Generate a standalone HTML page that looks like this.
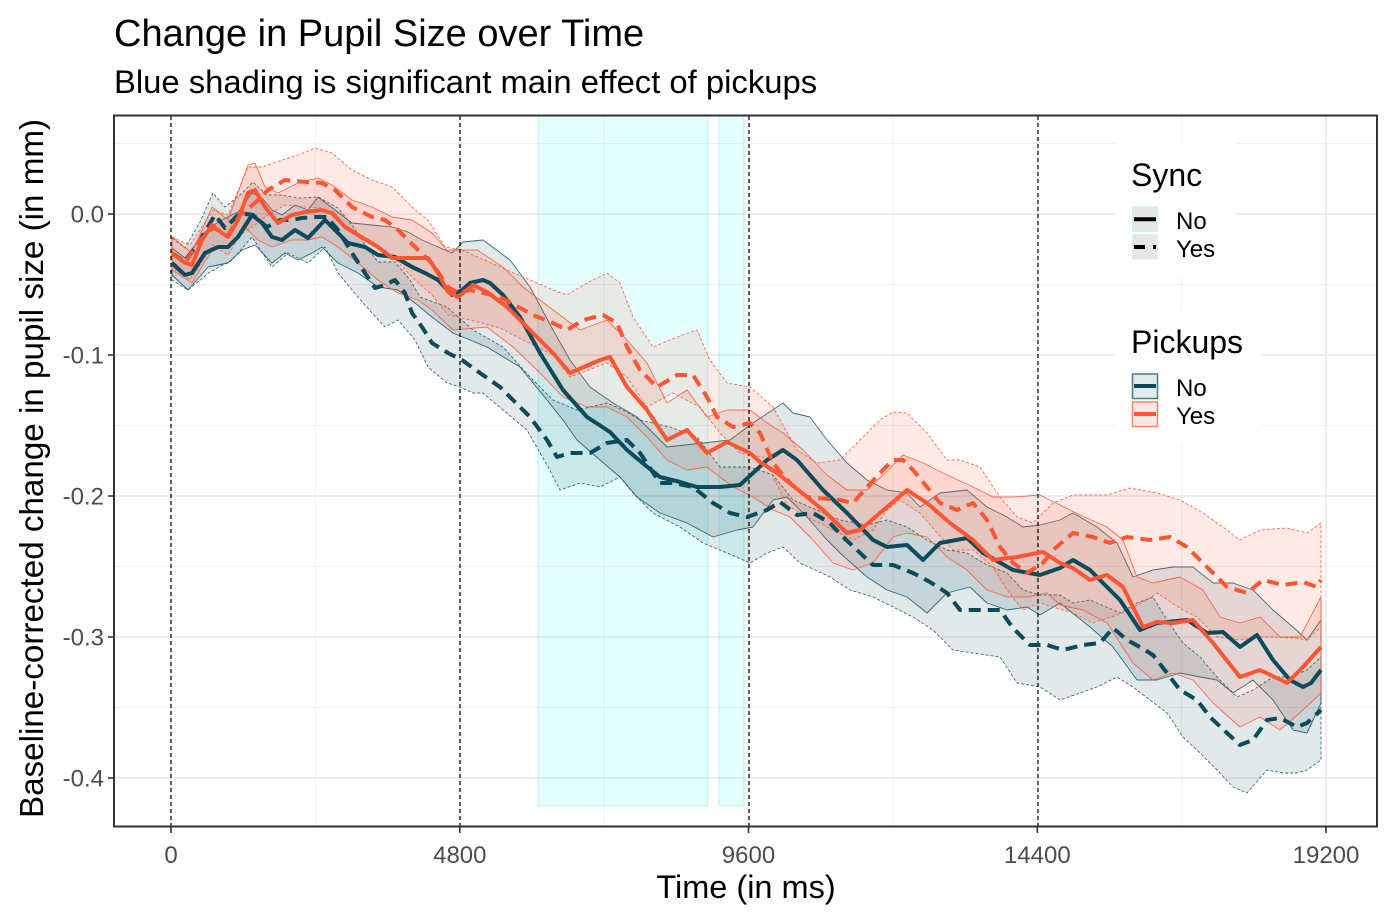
<!DOCTYPE html>
<html><head><meta charset="utf-8"><style>
html,body{margin:0;padding:0;background:#fff;}
svg{display:block;font-family:"Liberation Sans",Arial,sans-serif;}
</style></head><body>
<svg width="1395" height="921" viewBox="0 0 1395 921" xmlns="http://www.w3.org/2000/svg">
<rect x="0" y="0" width="1395" height="921" fill="#fff"/>
<!-- titles -->
<text x="114" y="46" font-size="38" fill="#000">Change in Pupil Size over Time</text>
<text x="114" y="93" font-size="32.8" fill="#000">Blue shading is significant main effect of pickups</text>
<!-- grid -->
<g stroke="#f0f0f0" stroke-width="1">
<line x1="114" x2="1377" y1="143.5" y2="143.5"/><line x1="114" x2="1377" y1="284.5" y2="284.5"/><line x1="114" x2="1377" y1="425.5" y2="425.5"/><line x1="114" x2="1377" y1="566.5" y2="566.5"/><line x1="114" x2="1377" y1="707.5" y2="707.5"/>
<line y1="116" y2="826" x1="315.4" x2="315.4"/><line y1="116" y2="826" x1="604.1" x2="604.1"/><line y1="116" y2="826" x1="892.9" x2="892.9"/><line y1="116" y2="826" x1="1181.6" x2="1181.6"/>
</g>
<g stroke="#ebebeb" stroke-width="1.8">
<line x1="114" x2="1377" y1="214" y2="214"/><line x1="114" x2="1377" y1="355" y2="355"/><line x1="114" x2="1377" y1="496" y2="496"/><line x1="114" x2="1377" y1="637" y2="637"/><line x1="114" x2="1377" y1="778" y2="778"/>
<line y1="116" y2="826" x1="171" x2="171"/><line y1="116" y2="826" x1="459.8" x2="459.8"/><line y1="116" y2="826" x1="748.5" x2="748.5"/><line y1="116" y2="826" x1="1037.3" x2="1037.3"/><line y1="116" y2="826" x1="1326" x2="1326"/>
</g>
<!-- cyan shading -->
<rect x="538" y="116" width="170" height="690" fill="rgba(0,255,255,0.1)" stroke="rgba(0,220,220,0.25)" stroke-width="1"/>
<rect x="719" y="116" width="25" height="690" fill="rgba(0,255,255,0.1)" stroke="rgba(0,220,220,0.25)" stroke-width="1"/>
<!-- ribbons -->
<g stroke-width="0.9" stroke-linejoin="round">
<polygon fill="rgba(11,75,91,0.12)" stroke="rgba(11,75,91,0.8)" points="172,248 185,258 205,232 218,222 238,212 252,193 262,198 272,210 282,215 295,205 308,210 318,197 335,210 352,223 372,225 392,227 408,232 422,240 438,247 452,253 463,242 483,240 510,260 530,287 553,330 570,360 590,387 613,403 637,417 667,447 703,443 730,440 753,423 783,403 793,413 810,417 827,440 847,463 867,480 887,490 907,493 920,507 940,493 967,490 987,507 1007,517 1023,527 1040,525 1060,520 1073,513 1097,527 1117,543 1133,577 1153,570 1173,567 1193,567 1213,583 1233,583 1253,590 1273,610 1293,627 1307,640 1321,620 1321,703 1307,733 1293,730 1273,700 1253,680 1233,693 1217,680 1200,677 1180,673 1157,680 1137,680 1113,647 1090,627 1060,603 1040,615 1027,607 1007,610 987,603 970,587 947,593 927,613 907,597 887,590 867,577 840,553 827,540 807,517 787,497 773,500 753,527 737,530 713,537 687,523 660,513 637,497 620,477 600,460 577,440 563,420 547,400 520,367 487,347 453,333 432,317 415,303 398,290 378,287 358,273 338,263 322,247 312,253 298,260 285,253 272,263 255,245 242,250 228,263 208,267 188,290 172,275"/>
<polygon fill="rgba(11,75,91,0.12)" stroke="rgba(11,75,91,0.8)" stroke-dasharray="3 2" points="172,238 185,248 200,222 213,193 225,207 240,195 253,182 267,195 280,195 300,198 318,197 338,208 352,225 365,245 378,262 395,262 410,280 420,297 447,307 473,330 503,347 530,377 553,400 577,410 607,403 623,410 640,420 670,427 697,437 720,467 750,467 773,475 793,500 817,510 840,520 867,525 887,520 907,527 927,540 947,550 967,553 987,565 1007,573 1023,590 1040,595 1060,595 1073,603 1090,600 1120,613 1137,603 1153,597 1167,620 1183,643 1200,657 1217,677 1237,697 1253,690 1273,677 1290,677 1307,670 1321,657 1321,760 1307,770 1297,773 1283,773 1267,770 1247,793 1233,787 1217,770 1200,753 1183,737 1167,713 1150,700 1133,687 1117,677 1097,687 1080,693 1060,700 1040,687 1017,683 1000,657 973,653 953,650 933,630 913,617 893,607 873,597 850,590 830,577 800,563 783,547 767,553 750,563 727,553 703,543 680,527 653,513 633,493 620,477 600,487 580,483 560,490 547,465 527,430 503,410 483,393 473,393 460,387 447,383 428,367 415,340 398,320 385,327 372,313 352,290 338,273 325,247 308,263 288,253 272,267 252,237 232,260 210,272 188,290 172,280"/>
<polygon fill="rgba(255,85,51,0.12)" stroke="rgba(255,85,51,0.85)" points="172,237 192,253 212,207 228,220 248,165 255,163 265,187 278,193 298,183 318,178 332,185 352,200 372,207 392,217 412,220 432,233 447,250 477,250 503,267 523,287 553,310 580,330 607,320 627,340 647,363 667,403 687,390 707,417 727,410 750,410 767,423 783,433 803,450 827,475 847,490 867,490 883,475 903,455 923,463 943,473 973,487 993,497 1013,497 1040,495 1060,505 1080,515 1107,527 1123,540 1137,577 1153,583 1180,577 1203,590 1220,617 1240,623 1260,617 1280,637 1300,637 1321,597 1321,693 1303,710 1280,730 1260,717 1240,727 1213,703 1193,680 1173,673 1153,680 1133,663 1107,623 1083,610 1060,605 1047,593 1027,597 1007,597 987,590 967,570 947,557 927,537 907,533 893,537 873,563 853,570 833,563 813,540 790,517 773,510 753,497 733,487 707,467 687,470 667,460 647,437 627,417 607,407 587,407 563,397 540,373 513,347 487,327 453,330 432,310 418,300 398,293 378,280 358,263 338,247 322,237 308,240 292,240 272,247 258,240 245,227 228,247 212,250 192,283 172,270"/>
<polygon fill="rgba(255,85,51,0.12)" stroke="rgba(255,85,51,0.85)" stroke-dasharray="3 2" points="172,237 190,245 213,210 228,215 248,167 262,167 282,160 298,155 315,148 332,153 352,170 372,180 392,187 412,207 428,220 445,247 462,250 500,267 530,280 553,290 567,295 587,283 607,273 620,283 633,317 653,347 677,337 697,330 710,360 727,383 750,387 773,407 797,450 817,463 840,460 860,440 880,420 893,412 907,413 927,433 947,460 960,460 980,467 1000,497 1017,517 1033,523 1053,503 1073,495 1107,495 1130,488 1157,493 1180,500 1203,513 1227,530 1240,540 1260,530 1287,528 1307,533 1321,523 1321,627 1307,640 1293,638 1273,637 1257,637 1240,640 1217,637 1197,617 1183,610 1157,593 1147,600 1123,613 1093,623 1073,613 1040,603 1023,610 1007,590 993,567 973,550 953,550 937,533 920,513 900,500 887,510 873,530 853,540 833,530 807,517 787,505 763,457 740,453 720,433 700,407 673,393 647,407 627,377 607,363 570,377 553,355 533,345 500,328 470,320 448,315 432,295 415,280 398,262 385,250 372,245 352,232 335,215 322,208 305,207 285,205 268,215 255,225 240,235 228,255 213,245 190,280 172,268"/>
</g>
<!-- vertical dashed reference lines -->
<g stroke="#000" stroke-width="1.2" stroke-dasharray="4 3">
<line x1="171" x2="171" y1="116" y2="826"/><line x1="460" x2="460" y1="116" y2="826"/><line x1="749" x2="749" y1="116" y2="826"/><line x1="1038" x2="1038" y1="116" y2="826"/>
</g>
<!-- lines -->
<g fill="none" stroke-width="4" stroke-linejoin="round">
<polyline stroke="#0b4b5b" points="172,263 185,275 192,273 205,253 218,247 228,247 238,237 252,215 262,223 272,237 282,240 295,230 308,238 325,220 335,230 348,243 365,247 378,255 395,257 412,267 425,273 438,280 452,295 462,290 470,283 483,280 490,283 503,295 520,317 540,353 563,390 587,417 610,432 627,450 645,465 660,477 680,482 697,487 720,487 740,485 753,473 767,460 783,450 797,460 810,475 823,490 847,513 873,540 887,547 907,545 923,560 940,543 967,538 983,553 1013,570 1040,575 1060,568 1073,560 1090,570 1120,600 1140,630 1157,623 1187,620 1207,633 1223,632 1240,647 1257,635 1273,660 1290,680 1303,687 1311,683 1321,670"/>
<polyline stroke="#0b4b5b" stroke-dasharray="12 7" points="172,253 185,262 200,240 215,215 225,228 240,213 253,215 267,227 280,220 292,220 302,218 315,217 327,217 338,230 352,253 365,273 375,288 385,285 395,280 405,293 412,313 422,327 432,343 448,353 462,360 480,373 500,387 513,400 530,417 547,440 557,457 570,453 590,453 607,443 627,440 640,453 660,483 673,483 693,487 713,503 730,513 747,517 767,510 780,502 797,515 813,513 830,523 843,537 857,550 873,565 893,565 913,573 930,582 947,593 960,610 980,610 1000,610 1013,628 1030,645 1047,645 1063,650 1083,645 1100,643 1113,628 1127,640 1140,647 1153,655 1167,673 1180,690 1197,700 1210,717 1227,733 1240,745 1253,740 1267,720 1280,718 1297,727 1307,723 1321,710"/>
<polyline stroke="#ff5533" points="172,253 185,263 192,265 202,240 212,225 222,233 228,237 238,220 248,193 255,190 265,207 278,223 292,215 305,212 322,210 332,213 345,227 358,235 378,247 392,258 412,258 428,258 438,273 448,292 458,297 473,285 487,292 507,307 520,320 540,340 553,353 570,373 600,360 610,357 627,387 647,410 667,440 687,430 707,453 727,442 750,453 760,462 777,473 807,497 823,510 847,533 860,530 880,513 907,490 927,503 950,523 973,540 993,560 1017,557 1043,552 1060,563 1073,568 1090,580 1107,575 1123,587 1143,627 1157,622 1173,623 1193,620 1213,643 1240,677 1260,670 1287,683 1303,667 1321,647"/>
<polyline stroke="#ff5533" stroke-dasharray="12 7" points="172,253 185,263 200,240 213,228 228,235 240,215 255,203 268,190 285,180 305,182 322,183 335,190 352,207 372,217 385,220 398,230 415,247 432,263 448,287 458,293 470,290 500,297 533,315 553,323 567,330 583,320 603,315 617,323 627,347 640,370 657,387 677,375 693,375 707,397 717,417 733,427 750,423 760,433 773,463 790,483 807,497 840,500 853,503 867,487 880,473 893,460 903,460 913,470 927,487 940,503 957,510 973,503 987,520 1000,547 1013,563 1027,573 1043,563 1053,550 1073,533 1093,537 1110,543 1127,537 1150,540 1170,537 1187,547 1207,567 1227,587 1247,593 1263,580 1283,585 1303,582 1317,587 1321,580"/>
</g>
<!-- panel border -->
<rect x="114" y="115.5" width="1263" height="711" fill="none" stroke="#333" stroke-width="2"/>
<!-- ticks -->
<g stroke="#333" stroke-width="1.6">
<line x1="108" x2="114" y1="214" y2="214"/><line x1="108" x2="114" y1="355" y2="355"/><line x1="108" x2="114" y1="496" y2="496"/><line x1="108" x2="114" y1="637" y2="637"/><line x1="108" x2="114" y1="778" y2="778"/>
<line y1="827" y2="833" x1="171" x2="171"/><line y1="827" y2="833" x1="459.8" x2="459.8"/><line y1="827" y2="833" x1="748.5" x2="748.5"/><line y1="827" y2="833" x1="1037.3" x2="1037.3"/><line y1="827" y2="833" x1="1326" x2="1326"/>
</g>
<g font-size="24" fill="#4d4d4d" text-anchor="end">
<text x="104" y="222.5">0.0</text><text x="104" y="363.5">-0.1</text><text x="104" y="504.5">-0.2</text><text x="104" y="645.5">-0.3</text><text x="104" y="786.5">-0.4</text>
</g>
<g font-size="24" fill="#4d4d4d" text-anchor="middle">
<text x="171" y="863">0</text><text x="459.8" y="863">4800</text><text x="748.5" y="863">9600</text><text x="1037.3" y="863">14400</text><text x="1326" y="863">19200</text>
</g>
<text x="746" y="898" font-size="32.5" text-anchor="middle" fill="#000">Time (in ms)</text>
<text transform="translate(43,468.5) rotate(-90)" font-size="33.2" text-anchor="middle" fill="#000">Baseline-corrected change in pupil size (in mm)</text>
<!-- legend: Sync -->
<rect x="1115" y="143" width="121" height="134" fill="#fff"/>
<text x="1131" y="186" font-size="32" fill="#000">Sync</text>
<rect x="1132.5" y="207" width="25" height="24.5" fill="#e6e6e6" stroke="#c4f3f3" stroke-width="1"/>
<line x1="1134" x2="1156" y1="219.3" y2="219.3" stroke="#000" stroke-width="4"/>
<rect x="1132.5" y="234.5" width="25" height="24.5" fill="#e6e6e6" stroke="#c4f3f3" stroke-width="1" stroke-dasharray="3 2"/>
<line x1="1134" x2="1156" y1="247" y2="247" stroke="#000" stroke-width="4" stroke-dasharray="11 8"/>
<text x="1176" y="229" font-size="24" fill="#000">No</text>
<text x="1176" y="257" font-size="24" fill="#000">Yes</text>
<!-- legend: Pickups -->
<rect x="1115" y="310" width="147" height="133" fill="#fff"/>
<text x="1131" y="353" font-size="32" fill="#000">Pickups</text>
<rect x="1132.5" y="374" width="25" height="24.5" fill="#e3ebed" stroke="#4b7d89" stroke-width="1.5"/>
<line x1="1134" x2="1156" y1="386" y2="386" stroke="#0b4b5b" stroke-width="4"/>
<rect x="1132.5" y="402" width="25" height="24.5" fill="#ffe9e4" stroke="#ff8466" stroke-width="1.5"/>
<line x1="1134" x2="1156" y1="414" y2="414" stroke="#ff5533" stroke-width="4"/>
<text x="1176" y="396" font-size="24" fill="#000">No</text>
<text x="1176" y="424" font-size="24" fill="#000">Yes</text>
</svg>
</body></html>
